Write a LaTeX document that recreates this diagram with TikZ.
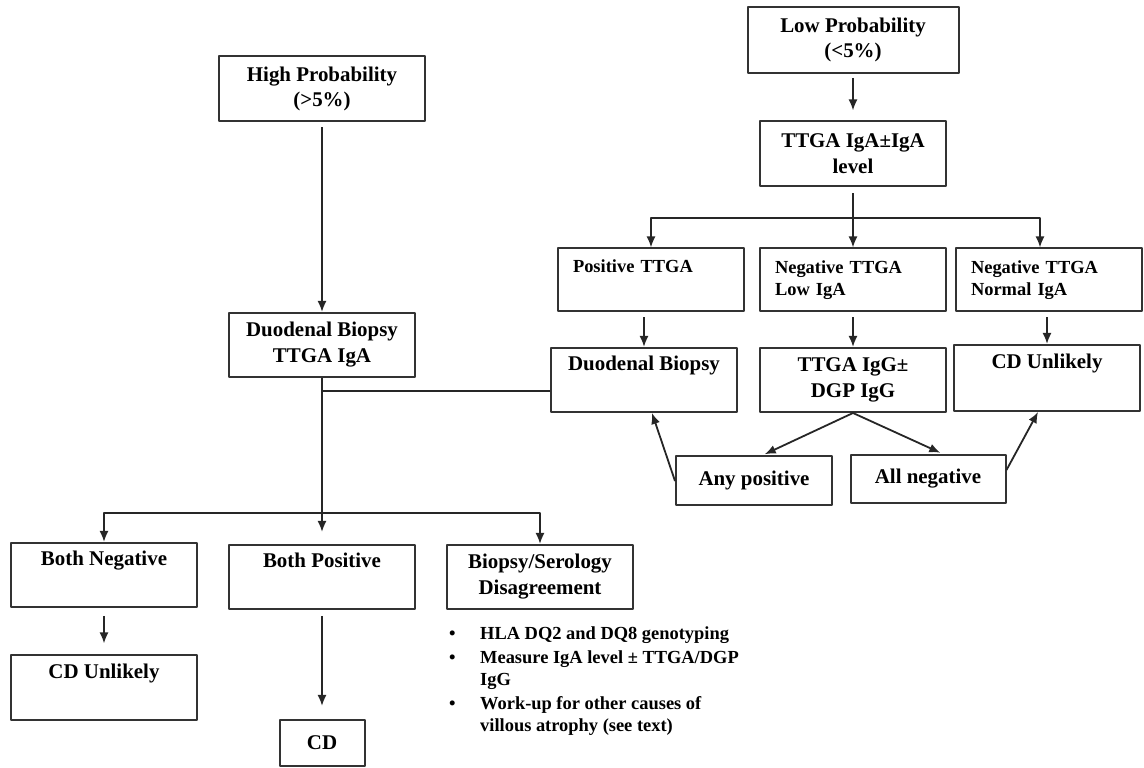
\documentclass[tikz,border=0pt]{standalone}
\usepackage{fontspec}
\setmainfont{Liberation Serif}
\usepackage{tikz}
\usetikzlibrary{arrows.meta}
\newcommand{\boxfont}{\fontsize{21}{26}\selectfont\bfseries}
\newcommand{\notefont}{\fontsize{18.5}{22}\selectfont\bfseries}

\begin{document}
\begin{tikzpicture}[>={Latex[length=11bp,width=9bp]},line join=bevel,
  stepbox/.style={draw=black!80,line width=2bp,minimum width=186bp,minimum height=64bp,inner sep=0pt,align=center,font=\boxfont},
  leftbox/.style={stepbox,align=left,text width=156bp,font=\notefont},
  link/.style={black!85,line width=1.8bp},
]
\useasboundingbox (0bp,0bp) rectangle (1144bp,768bp);
%%
\node (high) at (322bp,679bp) [stepbox,minimum width=206bp,minimum height=65bp] {High Probability\\(>5\%)};
  \node (duoL) at (322bp,423bp) [stepbox] {Duodenal Biopsy\\TTGA IgA};
  \node (bothneg) at (104bp,193bp) [stepbox] {Both Negative\\\strut};
  \node (bothpos) at (322bp,191bp) [stepbox] {Both Positive\\\strut};
  \node (disagree) at (540bp,191bp) [stepbox] {Biopsy/Serology\\Disagreement};
  \node (cdL) at (104bp,80bp) [stepbox,minimum height=65bp] {CD Unlikely\\\strut};
  \node (cd) at (322bp,25bp) [stepbox,minimum width=85bp,minimum height=46bp] {CD};
  \node (notes) at (449bp,144bp) [anchor=north west,inner sep=0pt,font=\notefont,align=left] {\begin{tabular}{@{}p{31bp}@{}l@{}}
    \textbullet & HLA DQ2 and DQ8 genotyping\\[2bp]
    \textbullet & Measure IgA level ± TTGA/DGP\\
                & IgG\\[2bp]
    \textbullet & Work-up for other causes of\\
                & villous atrophy (see text)
  \end{tabular}};
  \node (low) at (853bp,728bp) [stepbox,minimum width=211bp,minimum height=66bp] {Low Probability\\(<5\%)};
  \node (ttgaiga) at (853bp,614bp) [stepbox,minimum height=65bp] {TTGA IgA±IgA\\level};
  \node (postt) at (651bp,488bp) [leftbox,minimum height=63bp] {Positive TTGA\\\strut};
  \node (neglow) at (853bp,488bp) [leftbox,minimum height=63bp] {Negative TTGA\\Low IgA};
  \node (negnorm) at (1049bp,488bp) [leftbox,minimum height=63bp] {Negative TTGA\\Normal IgA};
  \node (duoR) at (644bp,388bp) [stepbox] {Duodenal Biopsy\\\strut};
  \node (ttgaigg) at (853bp,388bp) [stepbox] {TTGA IgG±\\DGP IgG};
  \node (cdR) at (1047bp,390bp) [stepbox,minimum height=66bp] {CD Unlikely\\\strut};
  \node (anypos) at (754bp,287bp) [stepbox,minimum width=156bp,minimum height=49bp] {Any positive};
  \node (allneg) at (928bp,289bp) [stepbox,minimum width=155bp,minimum height=48bp] {All negative};
  \coordinate (split) at (853bp,550bp);
  \coordinate (fork) at (322bp,255bp);
%
  \draw [link,->,shorten <=5bp] (high) -- (duoL);
  \draw [link,->,shorten <=4bp,shorten >=10bp] (low) -- (ttgaiga);
  \draw [link,->,shorten <=6bp] (ttgaiga) -- (ttgaiga |- neglow.north);
  \draw [link,->] (split) -| (postt.north);
  \draw [link,->] (split) -| ([xshift=-9bp]negnorm.north);
  \draw [link,->,shorten <=5bp] (duoR.north |- postt.south) -- (duoR.north);
  \draw [link,->,shorten <=5bp] (neglow) -- (ttgaigg);
  \draw [link,->,shorten <=5bp] (cdR.north |- negnorm.south) -- (cdR.north);
  \draw [link,->,shorten >=3bp] (ttgaigg.south) -- ([xshift=8bp]anypos.north);
  \draw [link,->,shorten >=3bp] (ttgaigg.south) -- ([xshift=15bp]allneg.north);
  \draw [link,->] (anypos.west) -- ([xshift=8bp]duoR.south);
  \draw [link,->] ([yshift=9bp]allneg.east) -- ([xshift=-9bp]cdR.south);
  \draw [link] ([yshift=-11bp]duoR.west) -| (duoL.south);
  \draw [link,->,shorten >=12bp] (duoL) -- (bothpos);
  \draw [link,->] (fork) -| (bothneg.north);
  \draw [link,->] (fork) -| (disagree.north);
  \draw [link,->,shorten <=8bp,shorten >=11bp] (bothneg) -- (cdL);
  \draw [link,->,shorten <=6bp,shorten >=13bp] (bothpos) -- (cd);
%
\end{tikzpicture}
\end{document}
